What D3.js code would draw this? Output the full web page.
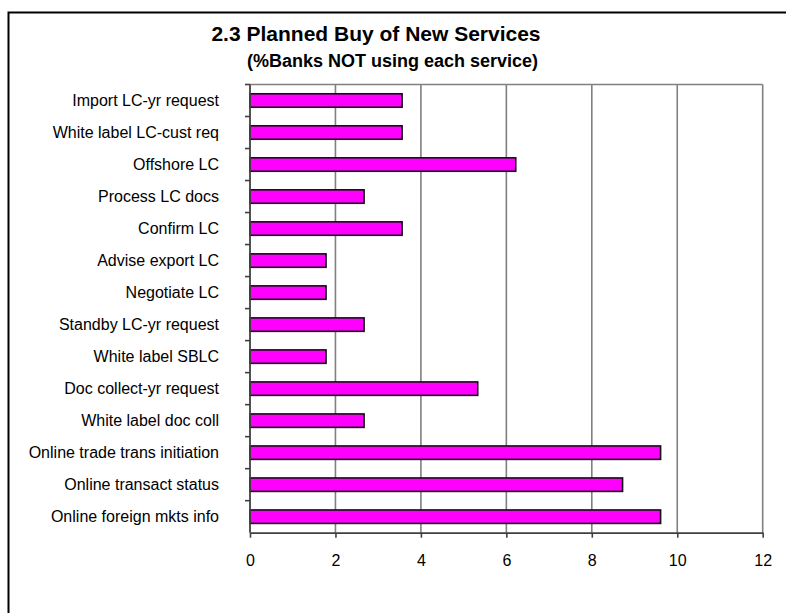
<!DOCTYPE html>
<html>
<head>
<meta charset="utf-8">
<script src="https://cdn.jsdelivr.net/npm/d3@7"></script>
<style>
  html, body { margin: 0; padding: 0; background: #fff; overflow: hidden; }
  svg { display: block; }
  text { font-family: "Liberation Sans", Arial, sans-serif; fill: #000; }
</style>
</head>
<body>
<svg id="chart" width="786" height="613"></svg>
<script>
// Services, top to bottom
const categories = [
  "Import LC-yr request",
  "White label LC-cust req",
  "Offshore LC",
  "Process LC docs",
  "Confirm LC",
  "Advise export LC",
  "Negotiate LC",
  "Standby LC-yr request",
  "White label SBLC",
  "Doc collect-yr request",
  "White label doc coll",
  "Online trade trans initiation",
  "Online transact status",
  "Online foreign mkts info"
];

// % of banks not using each service that plan to buy it
const values = [3.56, 3.56, 6.22, 2.67, 3.56, 1.78, 1.78, 2.67, 1.78, 5.33, 2.67, 9.61, 8.72, 9.61];

const xTicks = [0, 2, 4, 6, 8, 10, 12];

const titleText = "2.3 Planned Buy of New Services";
const subtitleText = "(%Banks NOT using each service)";

const svg = d3.select("#chart");

// Outer chart frame (runs off the right and bottom edges)
svg.append("rect")
  .attr("x", 8.5).attr("y", 12.5)
  .attr("width", 900).attr("height", 700)
  .attr("fill", "none")
  .attr("stroke", "#000")
  .attr("stroke-width", 2);

const plot = { left: 250, right: 762.7, top: 84.5, bottom: 532.7 };

const x = d3.scaleLinear().domain([0, 12]).range([plot.left, plot.right]);
const y = d3.scaleBand().domain(categories).range([plot.top, plot.bottom]).paddingInner(0.58).paddingOuter(0.29);
const band = d3.scaleBand().domain(categories).range([plot.top, plot.bottom]);

// Titles
svg.append("text")
  .attr("x", 376).attr("y", 41)
  .attr("text-anchor", "middle")
  .style("font-size", "21px").style("font-weight", "bold")
  .text(titleText);
svg.append("text")
  .attr("x", 392.5).attr("y", 66.5)
  .attr("text-anchor", "middle")
  .style("font-size", "18px").style("font-weight", "bold")
  .text(subtitleText);

// Vertical gridlines
svg.append("g")
  .selectAll("line")
  .data(xTicks.filter(d => d > 0))
  .join("line")
  .attr("x1", d => x(d)).attr("x2", d => x(d))
  .attr("y1", plot.top).attr("y2", plot.bottom)
  .attr("stroke", "#808080")
  .attr("stroke-width", 1.6);

// Plot area top border
svg.append("line")
  .attr("x1", plot.left).attr("x2", plot.right)
  .attr("y1", plot.top).attr("y2", plot.top)
  .attr("stroke", "#808080").attr("stroke-width", 1.6);

// Bars
svg.append("g")
  .selectAll("rect")
  .data(categories)
  .join("rect")
  .attr("x", x(0))
  .attr("y", d => y(d))
  .attr("width", (d, i) => x(values[i]) - x(0))
  .attr("height", y.bandwidth())
  .attr("fill", "#ff00ff")
  .attr("stroke", "#111")
  .attr("stroke-width", 1.6);

// X axis
const xAxis = svg.append("g")
  .attr("transform", `translate(0,${plot.bottom})`)
  .call(d3.axisBottom(x).tickValues(xTicks).tickSize(5).tickSizeOuter(0).tickPadding(17));
xAxis.select(".domain").attr("stroke", "#404040").attr("stroke-width", 1.8);
xAxis.selectAll(".tick line").attr("stroke", "#404040").attr("stroke-width", 1.6);
xAxis.selectAll(".tick text")
  .style("font-size", "16px")
  .style("font-family", "'Liberation Sans', Arial, sans-serif")
  .attr("fill", "#000");

// Y axis: tick marks at category boundaries, labels at band centres
const yAxisG = svg.append("g");
yAxisG.append("line")
  .attr("x1", plot.left).attr("x2", plot.left)
  .attr("y1", plot.top).attr("y2", plot.bottom)
  .attr("stroke", "#404040").attr("stroke-width", 1.8);
yAxisG.selectAll("line.tk")
  .data(categories)
  .join("line")
  .attr("class", "tk")
  .attr("x1", plot.left - 5).attr("x2", plot.left)
  .attr("y1", d => band(d)).attr("y2", d => band(d))
  .attr("stroke", "#404040").attr("stroke-width", 1.6);
yAxisG.selectAll("text")
  .data(categories)
  .join("text")
  .attr("x", 219)
  .attr("y", d => band(d) + band.bandwidth() / 2)
  .attr("dy", "0.35em")
  .attr("text-anchor", "end")
  .style("font-size", "16px")
  .text(d => d);
</script>
</body>
</html>
